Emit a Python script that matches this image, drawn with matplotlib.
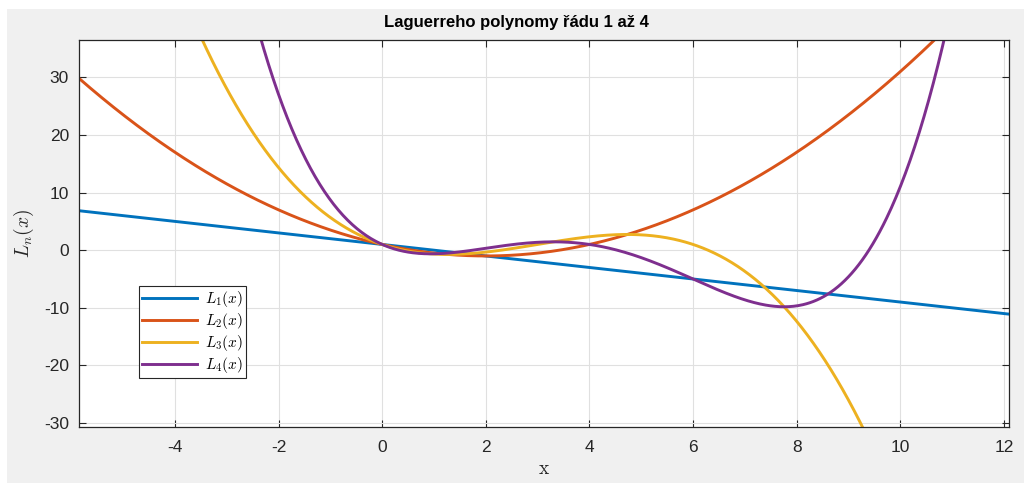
import numpy as np
import matplotlib
matplotlib.use('Agg')
import matplotlib.pyplot as plt

# Laguerre polynomial coefficients, highest power first
coef_L1 = [-1, 1]
coef_L2 = [1/2, -2, 1]
coef_L3 = [-1/6, 3/2, -3, 1]
coef_L4 = [1/24, -2/3, 3, -4, 1]
labels = ['$L_1(x)$', '$L_2(x)$', '$L_3(x)$', '$L_4(x)$']
colors = ['#0072BD', '#D95319', '#EDB120', '#7E2F8E']

x_min, x_max = -5.86, 12.1
xticks = [-4, -2, 0, 2, 4, 6, 8, 10, 12]
yticks = [-30, -20, -10, 0, 10, 20, 30]

plt.rcParams['mathtext.fontset'] = 'cm'
plt.rcParams['font.family'] = ['Liberation Sans', 'DejaVu Sans']

fig = plt.figure(figsize=(10.24, 4.83), dpi=100)
fig.patch.set_facecolor('white')
# gray figure panel (white strip top and left)
panel = plt.Rectangle((7/1024, 0), 1 - 7/1024, 1 - 9/483,
                      transform=fig.transFigure, facecolor='#f0f0f0',
                      edgecolor='none', zorder=-10)
fig.add_artist(panel)

ax = fig.add_axes([78.7/1024, 1 - 427/483, (1009 - 78.7)/1024, (427 - 40)/483])
ax.set_zorder(1)
ax.set_facecolor('white')

x = np.linspace(x_min, x_max, 800)
for c, lab, col in zip([coef_L1, coef_L2, coef_L3, coef_L4], labels, colors):
    ax.plot(x, np.polyval(c, x), color=col, lw=2.1, label=lab)

ax.set_xlim(x_min, x_max)
ax.set_ylim(-30.7, 36.5)
ax.set_xticks(xticks)
ax.set_yticks(yticks)
ax.set_xticklabels([str(t) for t in xticks])
ax.set_yticklabels([str(t) for t in yticks])
ax.grid(True, color='#e0e0e0', lw=0.8)
ax.set_axisbelow(True)
ax.tick_params(direction='in', top=True, right=True, length=5, width=0.8,
               colors='#262626', labelsize=12.5)
ax.tick_params(axis='x', pad=9.5)
ax.tick_params(axis='y', pad=7)
for s in ax.spines.values():
    s.set_color('#262626')
    s.set_linewidth(0.9)

ax.set_xlabel('$\\mathrm{x}$', fontsize=14, color='#262626', labelpad=4)
ax.set_ylabel('$L_n(x)$', fontsize=14, color='#262626', labelpad=6)

fig.text(516/1024, 1 - 22/483, 'Laguerreho polynomy řádu 1 až 4',
         ha='center', va='center', fontsize=12, fontweight='bold', color='black')

leg = ax.legend(loc='lower left', bbox_to_anchor=(0.0648, 0.1266), borderaxespad=0,
                fontsize=11, fancybox=False, framealpha=1, edgecolor='#262626',
                handlelength=3.6, handletextpad=0.5, labelspacing=0.12,
                borderpad=0.2)
leg.get_frame().set_linewidth(0.8)

fig.savefig('out.png', dpi=100, facecolor=fig.get_facecolor())
